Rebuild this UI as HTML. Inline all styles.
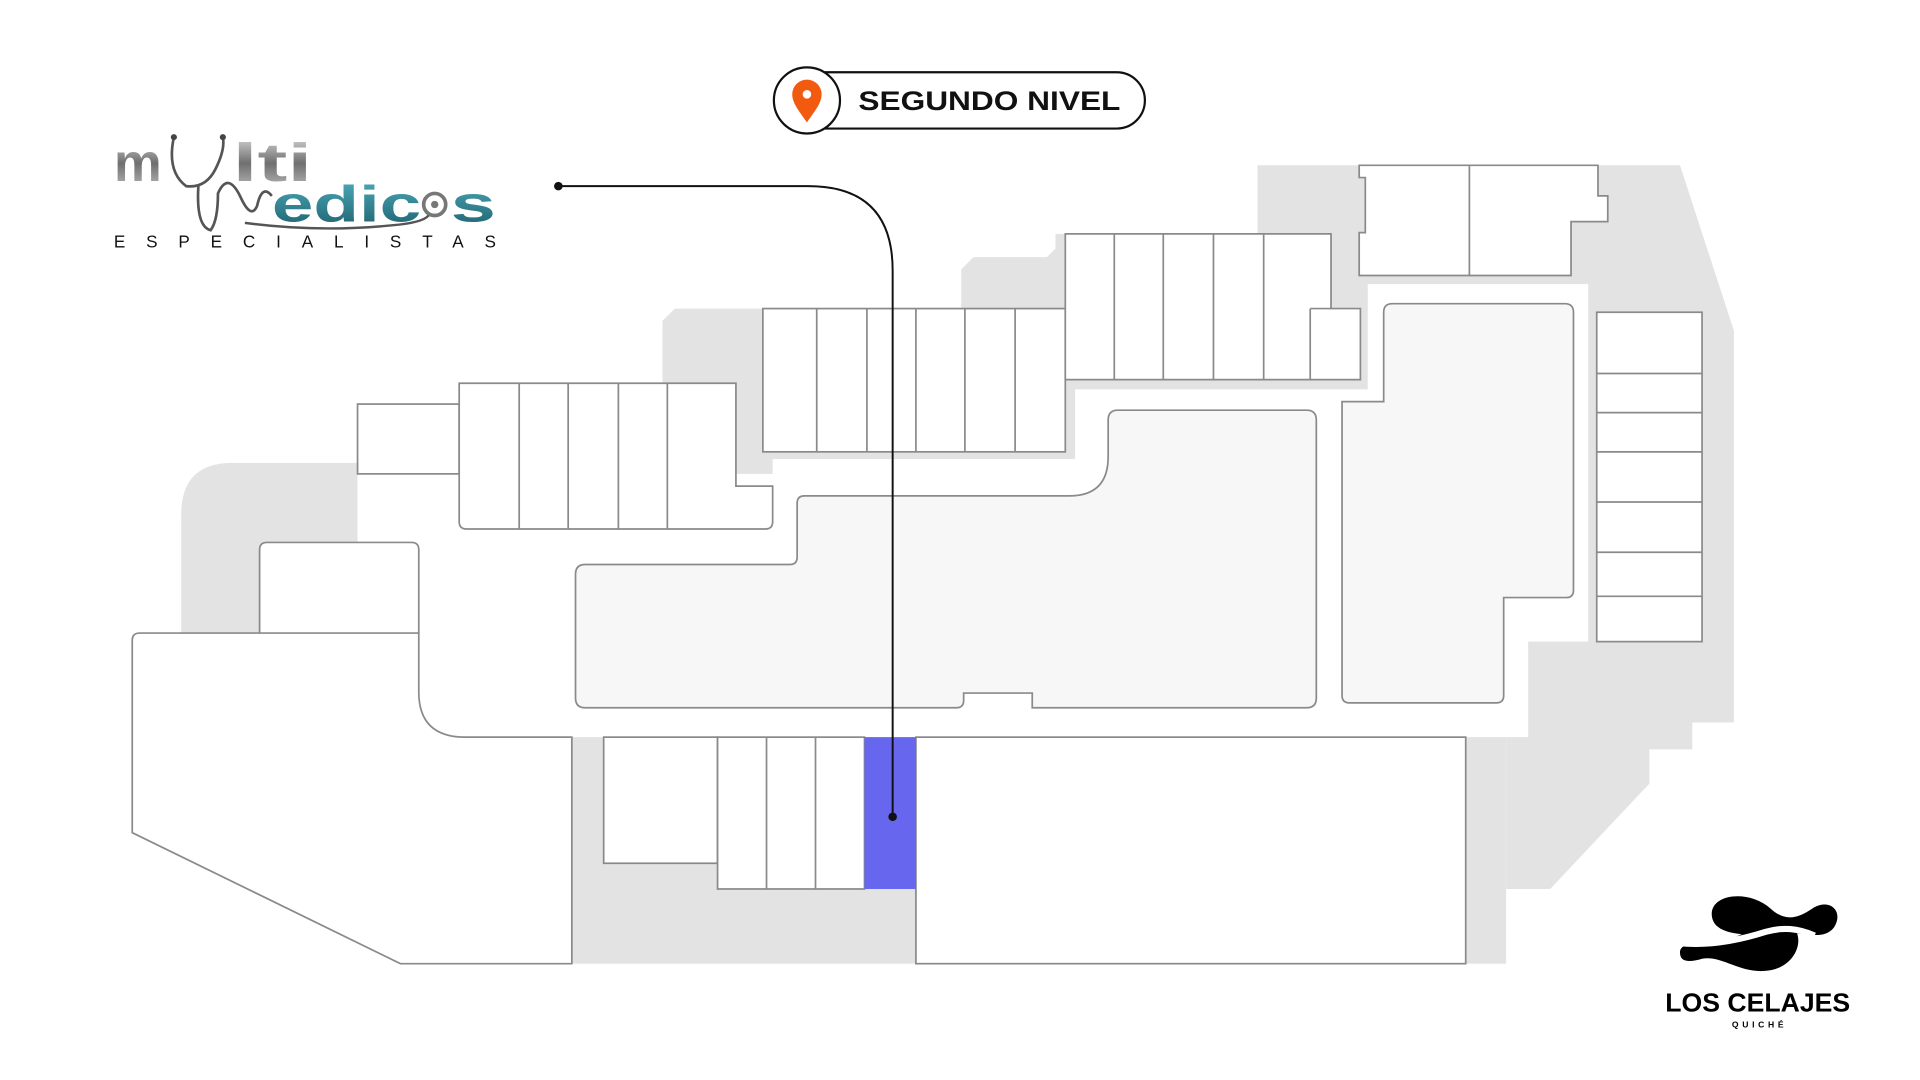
<!DOCTYPE html>
<html><head><meta charset="utf-8"><style>
html,body{margin:0;padding:0;background:#fff;width:1920px;height:1080px;overflow:hidden}
svg{display:block}
</style></head><body>
<svg width="1920" height="1080" viewBox="0 0 1568 882" preserveAspectRatio="none" xmlns="http://www.w3.org/2000/svg">
<defs>
<linearGradient id="gm" x1="0" y1="0" x2="0" y2="1"><stop offset="0" stop-color="#e0e0e0"/><stop offset="0.5" stop-color="#6f6f6f"/><stop offset="1" stop-color="#c4c4c4"/></linearGradient>
<linearGradient id="gt" x1="0" y1="0" x2="0" y2="1"><stop offset="0" stop-color="#4fb0be"/><stop offset="1" stop-color="#1d5e6c"/></linearGradient>
</defs>
<g fill="#e3e3e3">
<path d="M148,517 V420 Q148,378 190,378 H292 V517 Z"/>
<rect x="467" y="600" width="763" height="187"/>
<polygon points="1027,135 1372,135 1416,270 1416,590 1382,590 1382,612 1347,612 1347,640 1266,726 1230,726 1230,602 1027,602"/>
<polygon points="541,400 541,262 551,252 785,252 785,220 795,210 855,210 862,203 862,191 1027,191 1027,380"/>
</g>
<polygon fill="#fff" points="292,387 631,387 631,375 878,375 878,318 1117,318 1117,232 1297,232 1297,524 1248,524 1248,602 342,602 342,442 292,442"/>
<g stroke="#8a8a8a" stroke-width="1.4" fill="#fff">
<rect x="292" y="330" width="83" height="57"/>
<path d="M375,313 H601 V397 H631 V426 Q631,432 625,432 H381 Q375,432 375,426 Z"/>
<path d="M424,313V432M464,313V432M505,313V432M545,313V432" fill="none"/>
<path d="M212,517 V449 Q212,443 218,443 H336 Q342,443 342,449 V517"/>
<path d="M108,523 Q108,517 114,517 H342 V565 Q342,602 380,602 H467 V787 H327 L108,680 Z"/>
<rect x="623" y="252" width="247" height="117"/>
<path d="M667,252V369M708,252V369M748,252V369M788,252V369M829,252V369" fill="none"/>
<polygon points="870,191 1087,191 1087,252 1111,252 1111,310 870,310"/>
<path d="M910,191V310M950,191V310M991,191V310M1032,191V310M1070,252V310M1070,252H1087" fill="none"/>
<polygon points="1110,135 1305,135 1305,160 1313,160 1313,181 1283,181 1283,225 1110,225 1110,190 1115,190 1115,145 1110,145"/>
<path d="M1200,135V225" fill="none"/>
<path fill="#f7f7f7" d="M1130,255 Q1130,248 1137,248 H1278 Q1285,248 1285,255 V482 Q1285,488 1279,488 H1228 V568 Q1228,574 1222,574 H1102 Q1096,574 1096,568 V328 H1130 Z"/>
<rect x="1304" y="255" width="86" height="269"/>
<path d="M1304,305H1390M1304,337H1390M1304,369H1390M1304,410H1390M1304,451H1390M1304,487H1390" fill="none"/>
<path fill="#f7f7f7" d="M478,461 H645 Q651,461 651,455 V411 Q651,405 657,405 H873 Q905,405 905,373 V343 Q905,335 913,335 H1067 Q1075,335 1075,343 V570 Q1075,578 1067,578 H843 V566 H787 V572 Q787,578 781,578 H478 Q470,578 470,570 V469 Q470,461 478,461 Z"/>
<rect x="493" y="602" width="93" height="103"/>
<rect x="586" y="602" width="120" height="124"/>
<path d="M626,602V726M666,602V726" fill="none"/>
<rect x="748" y="602" width="449" height="185"/>
</g>
<rect x="706" y="602" width="42" height="124" fill="#6666ee"/>
<path d="M456,152 H660 Q729,152 729,221 V667" fill="none" stroke="#111" stroke-width="1.6"/>
<circle cx="456" cy="152" r="3.5" fill="#111"/>
<circle cx="729" cy="667" r="3.5" fill="#111"/>
<rect x="640" y="59" width="295" height="46" rx="23" fill="#fff" stroke="#111" stroke-width="1.8"/>
<circle cx="659" cy="82" r="27" fill="#fff" stroke="#111" stroke-width="1.8"/>
<path d="M659,100 C652,90 647,84 647,77 A12,12 0 0 1 671,77 C671,84 666,90 659,100 Z" fill="#f25a0f"/>
<circle cx="659" cy="77" r="3.5" fill="#fff"/>
<text x="701" y="90" font-family="Liberation Sans, sans-serif" font-size="22" font-weight="bold" fill="#111" textLength="214" lengthAdjust="spacingAndGlyphs">SEGUNDO NIVEL</text>
<text x="93" y="148" font-family="Liberation Sans, sans-serif" font-size="44" font-weight="bold" fill="url(#gm)">m</text>
<text x="190" y="148" font-family="Liberation Sans, sans-serif" font-size="44" font-weight="bold" fill="url(#gm)" textLength="65" lengthAdjust="spacingAndGlyphs">lti</text>
<path d="M142,112 Q136,140 152,152 Q168,154 176,138 Q184,122 182,112 M162,152 Q160,185 172,188 Q178,180 178,158 Q186,140 196,160 Q205,180 210,168 Q214,150 222,160" fill="none" stroke="#555" stroke-width="2.2"/>
<circle cx="142" cy="112" r="2.5" fill="#444"/><circle cx="182" cy="112" r="2.5" fill="#444"/>
<text x="222" y="181" font-family="Liberation Sans, sans-serif" font-size="42" font-weight="bold" fill="url(#gt)" textLength="122" lengthAdjust="spacingAndGlyphs">edic</text>
<circle cx="355" cy="167" r="9" fill="none" stroke="#777" stroke-width="3"/>
<circle cx="355" cy="167" r="3" fill="#777"/>
<text x="368" y="181" font-family="Liberation Sans, sans-serif" font-size="42" font-weight="bold" fill="url(#gt)" textLength="37" lengthAdjust="spacingAndGlyphs">s</text>
<path d="M200,182 Q260,190 320,184 Q345,182 350,176" fill="none" stroke="#555" stroke-width="2"/>
<text x="93" y="202" font-family="Liberation Sans, sans-serif" font-size="14" fill="#111" textLength="312" lengthAdjust="spacing">ESPECIALISTAS</text>
<path d="M1398,748 C1396,730 1428,726 1446,742 C1458,753 1468,750 1480,742 C1494,733 1506,744 1498,757 C1490,768 1475,762 1460,762 C1440,763 1400,768 1398,748Z" fill="#000"/>
<path d="M1372,778 C1372,768 1390,772 1405,770 C1420,766 1440,750 1460,755 C1476,760 1470,792 1440,793 C1420,794 1405,780 1390,783 C1380,786 1372,786 1372,778Z" fill="#000"/>
<path d="M1370,770 C1395,773 1420,768 1442,761 C1456,757 1468,758 1482,764" fill="none" stroke="#fff" stroke-width="5"/>
<text x="1360" y="826" font-family="Liberation Sans, sans-serif" font-size="21" font-weight="bold" fill="#000" textLength="151" lengthAdjust="spacingAndGlyphs">LOS CELAJES</text>
<text x="1437" y="839" text-anchor="middle" font-family="Liberation Sans, sans-serif" font-size="7" font-weight="bold" fill="#000" letter-spacing="3">QUICHÉ</text>
</svg>
</body></html>
